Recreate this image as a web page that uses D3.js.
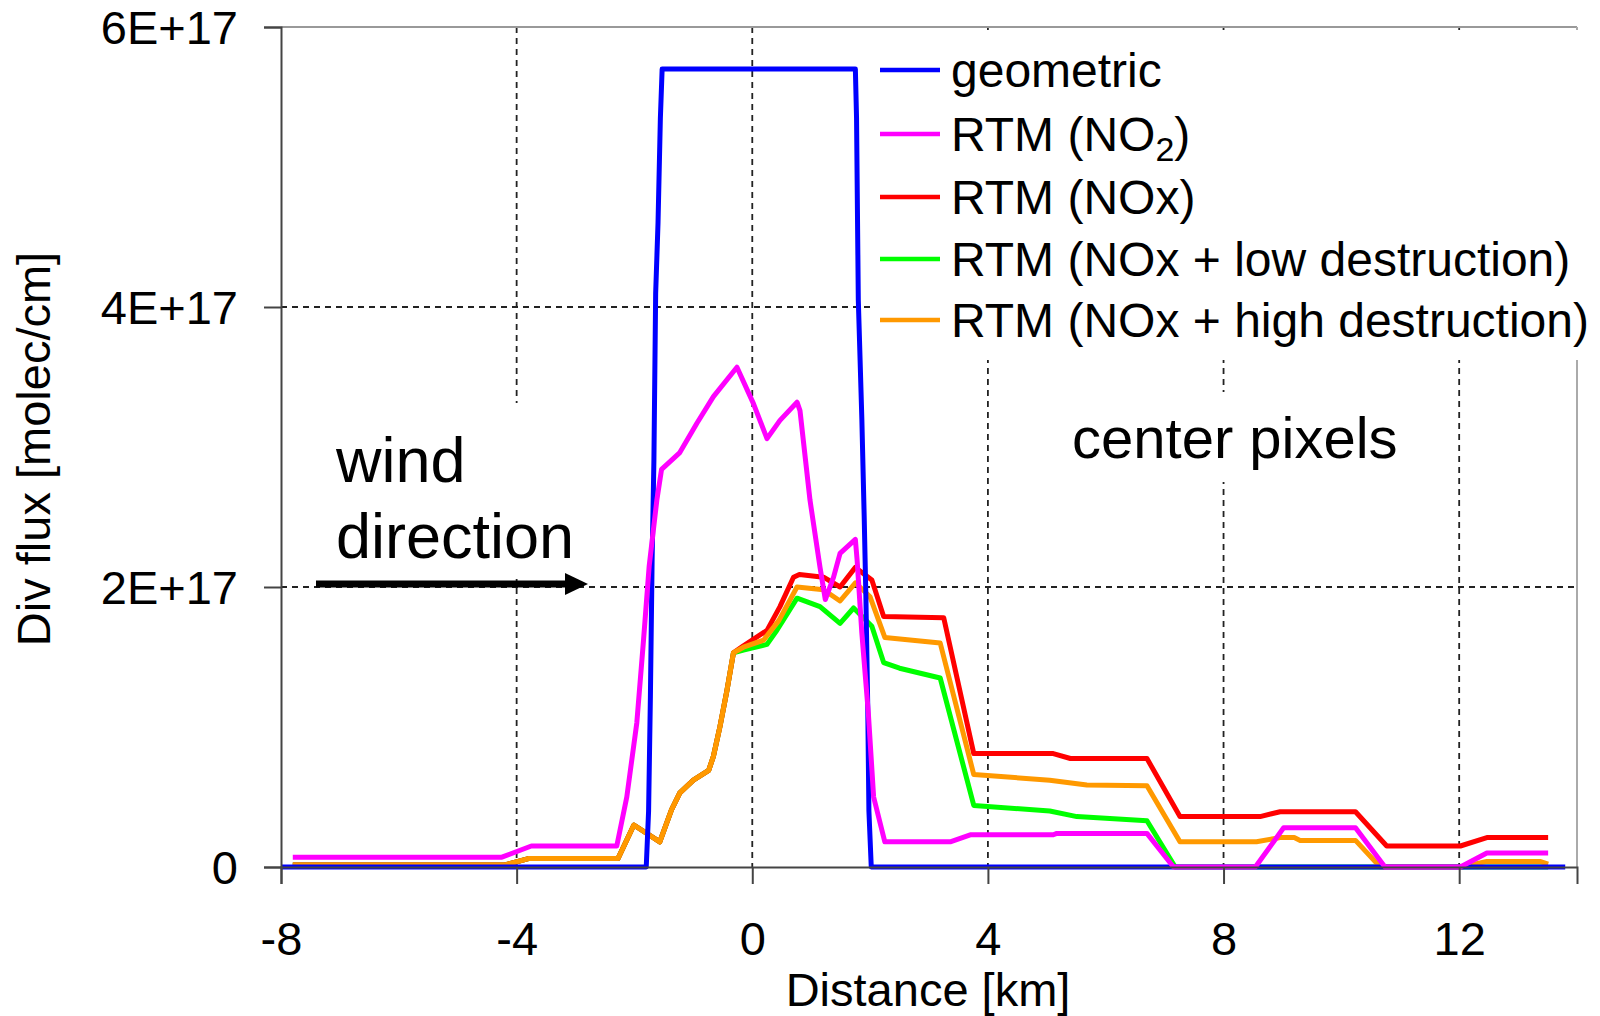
<!DOCTYPE html>
<html>
<head>
<meta charset="utf-8">
<script src="https://cdn.jsdelivr.net/npm/d3@7"></script>
<style>
  html, body { margin: 0; padding: 0; background: #fff; }
  svg { display: block; font-family: "Liberation Sans", Arial, sans-serif; }
</style>
</head>
<body>
<svg id="chart" width="1600" height="1016"></svg>
<script>
// ---------------- data (x in km, y in units of 1E+17 molec/cm) ----------------
const UNIT = 1e17;
const xTicks = [-8, -4, 0, 4, 8, 12];
const yTicks = [0, 2e17, 4e17, 6e17];
const yTickLabels = ["0", "2E+17", "4E+17", "6E+17"];
const seriesNames = ["geometric", "RTM (NO2)", "RTM (NOx)", "RTM (NOx + low destruction)", "RTM (NOx + high destruction)"];
const seriesColors = ["#0000ff", "#ff00ff", "#ff0000", "#00ff00", "#ff9900"];

const geometric = [[-8,0],[-1.80,0],[-1.76,0.4],[-1.73,1.2],[-1.70,2.2],[-1.67,2.9],[-1.64,4.1],[-1.60,4.6],[-1.56,5.35],[-1.53,5.70],
  [1.75,5.70],[1.77,5.35],[1.80,4.05],[1.86,3.2],[1.90,2.5],[1.93,1.9],[1.96,1.15],[1.98,0.4],[2.02,0],[13.8,0]];

const rtmNO2 = [[-7.8,0.07],[-4.25,0.07],[-3.75,0.15],[-2.3,0.15],[-2.13,0.50],[-1.96,1.03],[-1.85,1.60],[-1.75,2.15],[-1.62,2.62],
  [-1.54,2.84],[-1.23,2.96],[-0.94,3.17],[-0.66,3.36],[-0.26,3.57],[0.02,3.31],[0.25,3.06],[0.47,3.19],[0.76,3.32],[0.81,3.26],
  [0.98,2.62],[1.15,2.14],[1.24,1.91],[1.38,2.07],[1.49,2.24],[1.75,2.34],[1.78,2.19],[1.86,1.67],[1.97,1.10],[2.06,0.50],
  [2.25,0.18],[3.36,0.18],[3.70,0.23],[5.11,0.23],[5.17,0.24],[6.70,0.24],[7.15,0],[8.54,0],[9.02,0.28],[10.24,0.28],
  [10.74,0],[12.02,0],[12.47,0.10],[13.51,0.10]];

const rtmNOx = [[-7.8,0.015],[-4.2,0.015],[-3.8,0.06],[-2.28,0.06],[-2.01,0.30],[-1.57,0.18],[-1.37,0.41],[-1.23,0.53],[-1.0,0.62],
  [-0.74,0.69],[-0.66,0.79],[-0.55,1.0],[-0.43,1.26],[-0.32,1.53],[-0.15,1.58],[0.25,1.69],[0.47,1.86],[0.70,2.07],[0.80,2.09],
  [1.21,2.07],[1.49,2.0],[1.75,2.14],[2.03,2.05],[2.23,1.79],[3.25,1.78],[3.76,0.81],[5.11,0.81],[5.40,0.775],[6.70,0.775],
  [7.26,0.36],[8.62,0.36],[8.96,0.395],[10.24,0.395],[10.77,0.15],[12.02,0.15],[12.47,0.21],[13.51,0.21]];

const rtmLow = [[-7.8,0.015],[-4.2,0.015],[-3.8,0.06],[-2.28,0.06],[-2.01,0.30],[-1.57,0.18],[-1.37,0.41],[-1.23,0.53],[-1.0,0.62],
  [-0.74,0.69],[-0.66,0.79],[-0.55,1.0],[-0.43,1.26],[-0.32,1.53],[-0.15,1.55],[0.25,1.59],[0.40,1.68],[0.76,1.92],[1.15,1.86],
  [1.49,1.74],[1.72,1.85],[2.03,1.72],[2.23,1.46],[2.5,1.42],[3.19,1.35],[3.76,0.44],[5.05,0.40],[5.51,0.36],[6.70,0.33],
  [7.18,0],[13.51,0]];

const rtmHigh = [[-7.8,0.015],[-4.2,0.015],[-3.8,0.06],[-2.28,0.06],[-2.01,0.30],[-1.57,0.18],[-1.37,0.41],[-1.23,0.53],[-1.0,0.62],
  [-0.74,0.69],[-0.66,0.79],[-0.55,1.0],[-0.43,1.26],[-0.32,1.53],[-0.15,1.57],[0.19,1.62],[0.45,1.76],[0.76,2.0],[1.21,1.98],
  [1.49,1.90],[1.75,2.03],[2.0,1.93],[2.25,1.64],[3.19,1.60],[3.76,0.66],[5.05,0.62],[5.68,0.585],[6.70,0.58],[7.26,0.18],
  [8.56,0.18],[8.96,0.21],[9.2,0.21],[9.3,0.19],[10.24,0.19],[10.66,0],[12.05,0],[12.47,0.04],[13.37,0.04],[13.51,0.02]];

const allSeries = [geometric, rtmNO2, rtmNOx, rtmLow, rtmHigh];
// drawing order (bottom to top): low, NOx, high, geometric, NO2
const drawOrder = [3, 2, 4, 0, 1];

// ---------------- layout ----------------
const svg = d3.select("#chart");
const X0 = 281, X1 = 1577, Y0 = 867, Y1 = 27;
const x = d3.scaleLinear().domain([-8, 14]).range([X0, X1]);
const y = d3.scaleLinear().domain([0, 6e17]).range([Y0, Y1]);

// gridlines
const grid = svg.append("g").attr("stroke", "#222").attr("stroke-width", 1.8).attr("stroke-dasharray", "6,5");
grid.selectAll("line.gx").data(xTicks.filter(t => t !== -8)).enter().append("line")
  .attr("x1", d => x(d)).attr("x2", d => x(d)).attr("y1", Y1).attr("y2", Y0);
grid.selectAll("line.gy").data(yTicks.filter(t => t > 0 && t < 6e17)).enter().append("line")
  .attr("x1", X0).attr("x2", X1).attr("y1", d => y(d)).attr("y2", d => y(d));

// plot frame (top / right)
svg.append("line").attr("x1", X0).attr("x2", X1).attr("y1", Y1).attr("y2", Y1).attr("stroke", "#999").attr("stroke-width", 2);
svg.append("line").attr("x1", X1).attr("x2", X1).attr("y1", Y1).attr("y2", Y0).attr("stroke", "#aaa").attr("stroke-width", 2);

// white boxes behind annotations and legend
svg.append("rect").attr("x", 872).attr("y", 30).attr("width", 728).attr("height", 330).attr("fill", "#fff");
svg.append("rect").attr("x", 320).attr("y", 403).attr("width", 262).attr("height", 176).attr("fill", "#fff");
svg.append("rect").attr("x", 1062).attr("y", 392).attr("width", 335).attr("height", 90).attr("fill", "#fff");

// series
const line = d3.line().x(d => x(d[0])).y(d => y(d[1] * UNIT));
drawOrder.forEach(i => {
  svg.append("path").datum(allSeries[i])
    .attr("fill", "none")
    .attr("stroke", seriesColors[i])
    .attr("stroke-width", 5)
    .attr("stroke-linejoin", "round")
    .attr("d", line);
});

// axes
const xAxis = d3.axisBottom(x).tickValues(xTicks).tickSize(17).tickFormat(d3.format("d"));
const gx = svg.append("g").attr("transform", `translate(0,${Y0})`).call(xAxis);
gx.select(".domain").attr("stroke", "#444").attr("stroke-width", 2);
gx.selectAll(".tick line").attr("stroke", "#444").attr("stroke-width", 2);
gx.selectAll(".tick text").attr("font-size", 47).attr("fill", "#000")
  .attr("font-family", "Liberation Sans, Arial, sans-serif").attr("dy", null).attr("y", 88)
  .text(d => d < 0 ? "-" + Math.abs(d) : String(d));

const yAxis = d3.axisLeft(y).tickValues(yTicks).tickSize(17).tickFormat((d, i) => yTickLabels[i]);
const gy = svg.append("g").attr("transform", `translate(${X0},0)`).call(yAxis);
gy.select(".domain").attr("stroke", "#444").attr("stroke-width", 2);
gy.selectAll(".tick line").attr("stroke", "#444").attr("stroke-width", 2);
gy.selectAll(".tick text").attr("font-size", 47).attr("fill", "#000")
  .attr("font-family", "Liberation Sans, Arial, sans-serif").attr("x", -43).attr("dy", "0.35em");

// axis titles
svg.append("text").attr("x", 928).attr("y", 1006).attr("text-anchor", "middle")
  .attr("font-size", 47).text("Distance [km]");
svg.append("text").attr("transform", "translate(50,449) rotate(-90)").attr("text-anchor", "middle")
  .attr("font-size", 47).text("Div flux [molec/cm]");

// annotations
svg.append("text").attr("x", 336).attr("y", 482).attr("font-size", 63).text("wind");
svg.append("text").attr("x", 336).attr("y", 558).attr("font-size", 63).text("direction");
svg.append("line").attr("x1", 316).attr("x2", 570).attr("y1", 584).attr("y2", 584)
  .attr("stroke", "#000").attr("stroke-width", 7);
svg.append("path").attr("d", "M565,573 L588,584 L565,595 Z").attr("fill", "#000");
svg.append("text").attr("x", 1072).attr("y", 458).attr("font-size", 58).text("center pixels");

// legend
const legY = [70, 134, 197, 259, 320];
const leg = svg.append("g");
seriesNames.forEach((name, i) => {
  leg.append("line").attr("x1", 880).attr("x2", 940).attr("y1", legY[i]).attr("y2", legY[i])
    .attr("stroke", seriesColors[i]).attr("stroke-width", 4.5);
  const t = leg.append("text").attr("x", 951).attr("y", legY[i] + 17).attr("font-size", 48);
  if (name === "RTM (NO2)") {
    t.append("tspan").text("RTM (NO");
    t.append("tspan").attr("font-size", 34).attr("dy", 10).text("2");
    t.append("tspan").attr("dy", -10).text(")");
  } else {
    t.text(name);
  }
});
</script>
</body>
</html>
